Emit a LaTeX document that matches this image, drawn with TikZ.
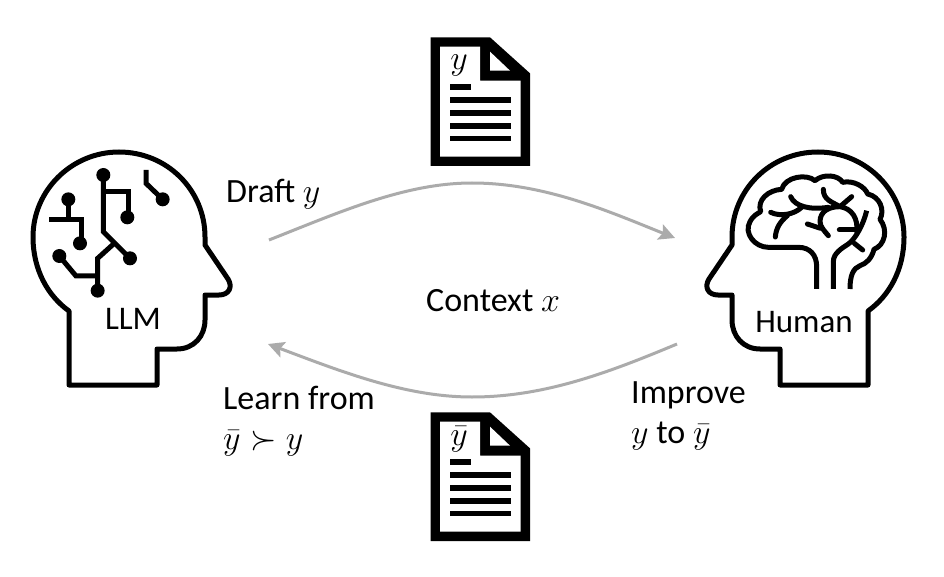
\documentclass[tikz,border=0pt]{standalone}
\usepackage{fix-cm}
\usepackage{fontspec}
\setmainfont{Carlito}
\usepackage{amsmath, amssymb}
\usetikzlibrary{arrows.meta}

\tikzset{
	outline/.style={line width=5pt, line join=round},
	wire/.style={line width=5pt, line join=miter},
	fold/.style={line width=5pt, line cap=round, line join=round},
	flow/.style={line width=3pt, color=black!33, -{Stealth[length=16pt, width=16pt, inset=3pt]}},
	caption/.style={font=\fontsize{34}{40}\selectfont, inner sep=0pt, anchor=base west},
	headlabel/.style={font=\fontsize{33}{40}\selectfont, inner sep=0pt, anchor=base}
}

% head outline, in pixels of the left head
\newcommand{\headoutline}{
	\draw[outline] (69,311) -- (69,385) -- (157,385) -- (157,349) -- (177,349)
	.. controls (194,349) and (205,336) .. (205,320) -- (205,295) -- (219,295)
	.. controls (229,295) and (233,287) .. (228,279) -- (205,245) -- (205,237)
	.. controls (205,190) and (167,152) .. (119,152)
	.. controls (72,152) and (33,190) .. (33,237)
	.. controls (33,270) and (48,296) .. (69,311) -- cycle;
}
% sheet of paper, in zoomed pixels
\newcommand{\sheet}{
	\fill[black] (32,22) -- (210,22) -- (330,130) -- (330,408) -- (32,408) -- cycle;
	\fill[white] (60,50) -- (180,50) -- (180,152) -- (302,152) -- (302,380) -- (60,380) -- cycle;
	\fill[white] (210,65) -- (270,122) -- (210,122) -- cycle;
	\fill[black] (90,163) rectangle (152,181);
	\foreach \ya in {202,240,279,317}
		\fill[black] (90,\ya) rectangle (272,\ya+17);
}

\begin{document}
\begin{tikzpicture}[x=1pt, y=-1pt]
	\useasboundingbox (0,0) rectangle (944,577);
	\fill[white] (0,0) rectangle (944,577);

	%Heads
	\headoutline
	\begin{scope}[shift={(937,0)}, xscale=-1]
		\headoutline
	\end{scope}
	\node[headlabel] (llm) at (133,329) {LLM};
	\node[headlabel] (human) at (804,332) {Human};

	%Circuit
	\begin{scope}[shift={(20,150)}, scale=1/3]
		\foreach \xa/\ya in {250/75, 145/148, 322/202, 180/280, 118/318, 330/325, 233/422, 428/148}
			\fill (\xa,\ya) circle (21);
		\draw[wire] (250,75) -- (250,245) -- (330,325);
		\draw[wire] (250,125) -- (325,125) -- (325,202);
		\draw[wire] (145,148) -- (145,208);
		\draw[wire] (88,208) -- (185,208) -- (185,280);
		\draw[wire] (118,318) -- (168,378) -- (233,378);
		\draw[wire] (233,422) -- (233,325) -- (285,278);
		\draw[wire] (378,60) -- (378,100) -- (428,148);
	\end{scope}

	%Brain
	\begin{scope}[shift={(700,150)}, scale=1/3]
		\draw[outline] (350,417) -- (350,350) .. controls (350,315) and (330,292) .. (295,292) -- (205,292)
		.. controls (165,292) and (130,250) .. (150,215)
		.. controls (160,195) and (175,190) .. (182,185)
		.. controls (170,150) and (205,120) .. (245,118)
		.. controls (255,80) and (320,70) .. (345,92)
		.. controls (370,70) and (415,75) .. (428,97)
		.. controls (460,90) and (495,110) .. (503,132)
		.. controls (540,140) and (555,180) .. (540,208)
		.. controls (565,240) and (555,285) .. (522,298)
		.. controls (515,325) and (500,340) .. (480,347)
		.. controls (460,355) and (450,375) .. (450,417);
		\draw[outline] (400,417) -- (400,335) .. controls (400,310) and (425,295) .. (445,282)
		.. controls (465,268) and (490,225) .. (500,182);
		\draw[fold] (463,280) -- (488,300);
		\draw[fold] (418,240) -- (468,240);
		\draw[fold] (370,118) .. controls (370,150) and (395,155) .. (420,170) -- (455,140);
		\draw[fold] (420,170) .. controls (455,175) and (475,205) .. (470,245);
		\draw[fold] (420,170) .. controls (385,170) and (360,185) .. (360,215) .. controls (360,230) and (375,245) .. (385,257);
		\draw[fold] (322,222) -- (362,235);
		\draw[fold] (272,140) .. controls (285,170) and (330,180) .. (385,172);
		\draw[fold] (212,187) .. controls (240,200) and (280,195) .. (305,172);
		\draw[fold] (226,261) .. controls (228,235) and (240,215) .. (262,197);
	\end{scope}

	%Documents
	\begin{scope}[shift={(420,30)}, scale=1/3]
		\sheet
	\end{scope}
	\begin{scope}[shift={(420,405)}, scale=1/3]
		\sheet
	\end{scope}
	\node[caption, anchor=base] (drafty) at (459,70) {$y$};
	\node[caption, anchor=base] (improvedy) at (459,445) {$\bar{y}$};

	%Flows
	\coordinate (draftstart) at (269,240);
	\coordinate (drafttop) at (472,183);
	\coordinate (draftend) at (675,238);
	\coordinate (improvestart) at (677,344);
	\coordinate (improvelow) at (472,397);
	\coordinate (improveend) at (268,344);
	\draw[flow] (draftstart) .. controls (340,212) and (405,183) .. (drafttop) .. controls (545,183) and (610,212) .. (draftend);
	\draw[flow] (improvestart) .. controls (610,372) and (545,397) .. (improvelow) .. controls (405,397) and (340,371) .. (improveend);

	%Labels
	\node[caption] (draft) at (226,203) {Draft $y$};
	\node[caption] (context) at (426,311) {Context $x$};
	\node[caption] (improve) at (631,403) {Improve};
	\node[caption] (ytoybar) at (631,443) {$y$ to $\bar{y}$};
	\node[caption] (learn) at (223,409) {Learn from};
	\node[caption] (pref) at (223,449) {$\bar{y} \succ y$};
\end{tikzpicture}
\end{document}
